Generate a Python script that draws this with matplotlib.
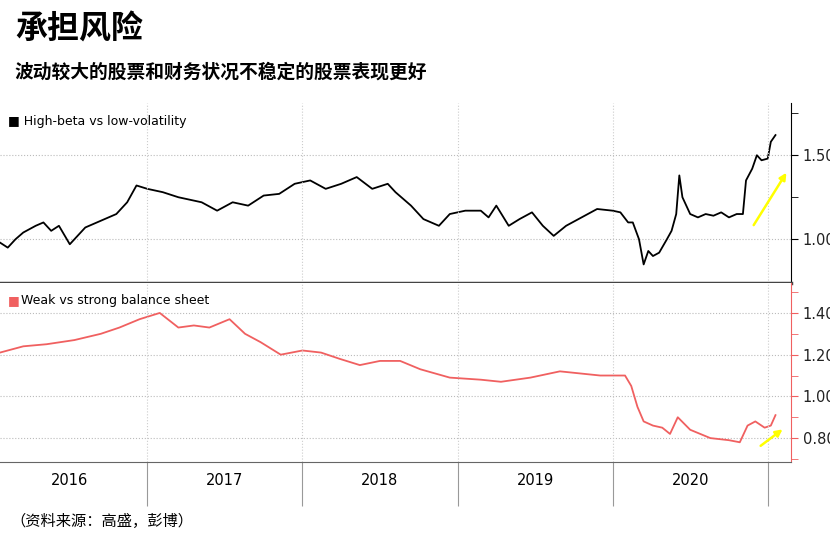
import matplotlib.pyplot as plt
import numpy as np

plt.rcParams['font.family'] = ['Noto Sans CJK SC', 'DejaVu Sans']

# High-beta vs low-volatility (decimal year, value)
beta_t = [2016.05, 2016.1, 2016.15, 2016.2, 2016.28, 2016.33, 2016.38, 2016.43, 2016.5, 2016.55,
          2016.6, 2016.7, 2016.8, 2016.87, 2016.93, 2017.0, 2017.1, 2017.2, 2017.35, 2017.45,
          2017.55, 2017.65, 2017.75, 2017.85, 2017.95, 2018.05, 2018.15, 2018.25, 2018.35, 2018.45,
          2018.55, 2018.6, 2018.7, 2018.78, 2018.88, 2018.95, 2019.05, 2019.15, 2019.2, 2019.25,
          2019.33, 2019.4, 2019.48, 2019.55, 2019.62, 2019.7, 2019.8, 2019.9, 2020.0, 2020.05,
          2020.1, 2020.13, 2020.17, 2020.2, 2020.23, 2020.26, 2020.3, 2020.35, 2020.38, 2020.41,
          2020.43, 2020.45, 2020.5, 2020.55, 2020.6, 2020.65, 2020.7, 2020.75, 2020.8, 2020.84,
          2020.86, 2020.9, 2020.93, 2020.96, 2021.0, 2021.02, 2021.05]
beta_v = [0.98, 0.95, 1.00, 1.04, 1.08, 1.10, 1.05, 1.08, 0.97, 1.02,
          1.07, 1.11, 1.15, 1.22, 1.32, 1.30, 1.28, 1.25, 1.22, 1.17,
          1.22, 1.20, 1.26, 1.27, 1.33, 1.35, 1.30, 1.33, 1.37, 1.30,
          1.33, 1.28, 1.20, 1.12, 1.08, 1.15, 1.17, 1.17, 1.13, 1.20,
          1.08, 1.12, 1.16, 1.08, 1.02, 1.08, 1.13, 1.18, 1.17, 1.16,
          1.10, 1.10, 1.00, 0.85, 0.93, 0.90, 0.92, 1.00, 1.05, 1.15,
          1.38, 1.25, 1.15, 1.13, 1.15, 1.14, 1.16, 1.13, 1.15, 1.15,
          1.35, 1.42, 1.50, 1.47, 1.48, 1.58, 1.62]

# Weak vs strong balance sheet
bal_t = [2016.05, 2016.2, 2016.35, 2016.53, 2016.7, 2016.82, 2016.95, 2017.08, 2017.2, 2017.3,
         2017.4, 2017.53, 2017.63, 2017.73, 2017.86, 2018.0, 2018.12, 2018.24, 2018.37, 2018.5,
         2018.63, 2018.76, 2018.95, 2019.15, 2019.28, 2019.47, 2019.66, 2019.92, 2020.05, 2020.08,
         2020.12, 2020.16, 2020.2, 2020.26, 2020.32, 2020.37, 2020.42, 2020.5, 2020.63, 2020.75,
         2020.82, 2020.87, 2020.92, 2020.98, 2021.02, 2021.05]
bal_v = [1.21, 1.24, 1.25, 1.27, 1.30, 1.33, 1.37, 1.40, 1.33, 1.34,
         1.33, 1.37, 1.30, 1.26, 1.20, 1.22, 1.21, 1.18, 1.15, 1.17,
         1.17, 1.13, 1.09, 1.08, 1.07, 1.09, 1.12, 1.10, 1.10, 1.10,
         1.05, 0.95, 0.88, 0.86, 0.85, 0.82, 0.90, 0.84, 0.80, 0.79,
         0.78, 0.86, 0.88, 0.85, 0.86, 0.91]

years = [2016, 2017, 2018, 2019, 2020]
bounds = [2017, 2018, 2019, 2020, 2021]
xmin, xmax = 2016.05, 2021.15

fig = plt.figure(figsize=(8.3, 5.43), dpi=100)
ax1 = fig.add_axes([0, 0.479, 0.953, 0.331])
ax2 = fig.add_axes([0, 0.149, 0.953, 0.330])

red = '#f06060'
ax1.plot(beta_t, beta_v, color='black', lw=1.3)
ax2.plot(bal_t, bal_v, color=red, lw=1.3)

for ax, ylim, major, minor, col in [(ax1, (0.74, 1.81), [1.0, 1.5], [1.25, 1.75], 'black'),
                                    (ax2, (0.685, 1.544), [0.8, 1.0, 1.2, 1.4], [0.7, 0.9, 1.1, 1.3, 1.5], red)]:
    ax.set_xlim(xmin, xmax)
    ax.set_ylim(*ylim)
    ax.yaxis.tick_right()
    ax.set_yticks(major)
    ax.set_yticks(minor, minor=True)
    ax.set_yticklabels(['%.2f' % v for v in major], fontsize=10.5, color='#222222', family='DejaVu Sans')
    ax.tick_params(axis='y', which='both', color=col, length=5)
    for s in ['left', 'top']:
        ax.spines[s].set_visible(False)
    ax.spines['right'].set_color(col)
    ax.grid(axis='y', which='major', ls=':', color='#bbbbbb', lw=0.8)
    for b in bounds:
        ax.axvline(b, ls=':', color='#cccccc', lw=0.8)

ax1.set_xticks([])
ax1.spines['bottom'].set_color('#444444')
ax1.spines['bottom'].set_linewidth(2.5)
ax2.set_xticks(bounds)
ax2.set_xticklabels([])
ax2.tick_params(axis='x', length=32, color='#999999')
ax2.spines['bottom'].set_color('#666666')
for y in years:
    ax2.text(y + 0.5, -0.1, str(y), transform=ax2.get_xaxis_transform(),
             ha='center', va='center', fontsize=10.5, family='DejaVu Sans')

ax1.text(0.01, 0.9, '■ High-beta vs low-volatility', transform=ax1.transAxes, fontsize=9,
         va='center', family='DejaVu Sans')
ax2.text(0.01, 0.9, '■', color=red, transform=ax2.transAxes, fontsize=9, va='center', family='DejaVu Sans')
ax2.text(0.026, 0.9, 'Weak vs strong balance sheet', transform=ax2.transAxes, fontsize=9,
         va='center', family='DejaVu Sans')

arrow = dict(arrowstyle='-|>', color='#ffff00', lw=1.8, mutation_scale=10)
ax1.annotate('', xy=(2021.13, 1.41), xytext=(2020.9, 1.07), arrowprops=arrow)
ax2.annotate('', xy=(2021.11, 0.85), xytext=(2020.94, 0.755), arrowprops=arrow)

fig.text(0.018, 0.945, '承担风险', fontsize=23, fontweight='heavy', va='center')
fig.text(0.018, 0.867, '波动较大的股票和财务状况不稳定的股票表现更好', fontsize=13.5, fontweight='bold', va='center')
fig.text(0.012, 0.04, '（资料来源：高盛，彭博）', fontsize=11, va='center')

fig.savefig('out.png', dpi=100)
